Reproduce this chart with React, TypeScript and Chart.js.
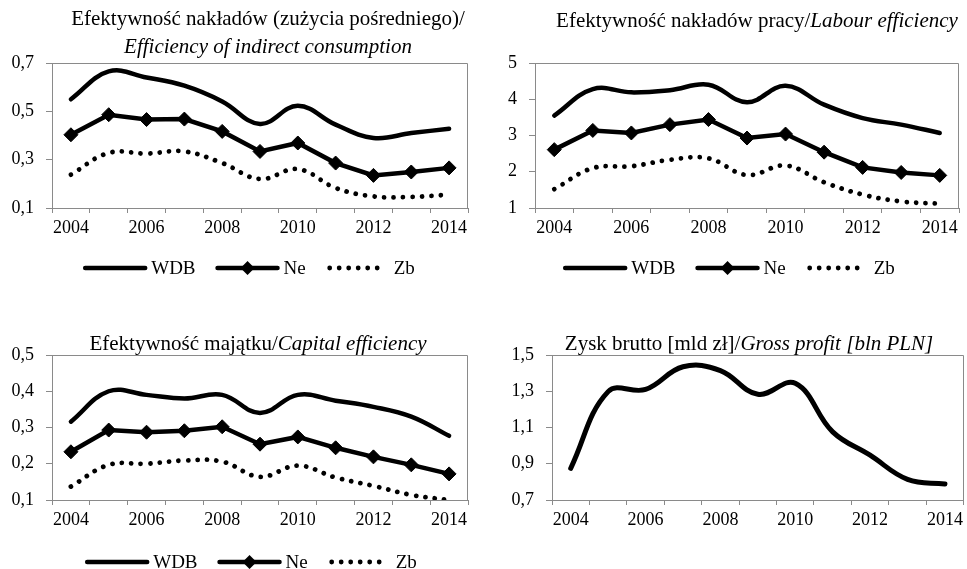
import React, { useEffect, useRef } from 'react';
import { Chart, registerables } from 'chart.js';

Chart.register(...registerables);

const FONT = '"Liberation Serif", "Times New Roman", Times, serif';
const AXIS_GRAY = '#8a8a8a';

const years = ['2004', '2005', '2006', '2007', '2008', '2009', '2010', '2011', '2012', '2013', '2014'];
const seriesNames = ['WDB', 'Ne', 'Zb'];

// Efficiency of indirect consumption
const indirectWDB = [0.55, 0.665, 0.64, 0.606, 0.541, 0.448, 0.523, 0.445, 0.39, 0.41, 0.428];
const indirectNe = [0.403, 0.486, 0.466, 0.468, 0.417, 0.334, 0.369, 0.286, 0.235, 0.249, 0.266];
const indirectZb = [0.238, 0.328, 0.325, 0.334, 0.286, 0.22, 0.261, 0.183, 0.148, 0.146, 0.155];
const indirectTicks = [0.1, 0.7, 0.2];

// Labour efficiency
const labourWDB = [3.55, 4.28, 4.19, 4.25, 4.4, 3.92, 4.37, 3.85, 3.48, 3.3, 3.07];
const labourNe = [2.61, 3.14, 3.07, 3.3, 3.44, 2.93, 3.04, 2.54, 2.12, 1.98, 1.9];
const labourZb = [1.52, 2.1, 2.15, 2.33, 2.37, 1.91, 2.17, 1.71, 1.37, 1.18, 1.12];
const labourTicks = [1, 5, 1];

// Capital efficiency
const capitalWDB = [0.316, 0.4, 0.39, 0.38, 0.39, 0.34, 0.39, 0.374, 0.357, 0.33, 0.277];
const capitalNe = [0.233, 0.293, 0.287, 0.291, 0.302, 0.254, 0.274, 0.244, 0.219, 0.197, 0.172];
const capitalZb = [0.137, 0.197, 0.2, 0.209, 0.206, 0.164, 0.195, 0.162, 0.139, 0.114, 0.1];
const capitalTicks = [0.1, 0.5, 0.1];

// Gross profit [bln PLN]
const profit = [0.875, 1.298, 1.31, 1.435, 1.414, 1.283, 1.344, 1.076, 0.947, 0.814, 0.788];
const profitTicks = [0.7, 1.5, 0.2];

const title1 = [
  [{ text: 'Efektywność nakładów (zużycia pośredniego)/', italic: false }],
  [{ text: 'Efficiency of indirect consumption', italic: true }],
];
const title2 = [[{ text: 'Efektywność nakładów pracy/', italic: false }, { text: 'Labour efficiency', italic: true }]];
const title3 = [[{ text: 'Efektywność majątku/', italic: false }, { text: 'Capital efficiency', italic: true }]];
const title4 = [[{ text: 'Zysk brutto [mld zł]/', italic: false }, { text: 'Gross profit [bln PLN]', italic: true }]];

const boxPlugin = {
  id: 'plotBox',
  beforeDatasetsDraw(chart: any) {
    const { ctx, chartArea } = chart;
    const l = Math.round(chartArea.left) + 0.5;
    const r = Math.round(chartArea.right) - 0.5;
    const t = Math.round(chartArea.top) + 0.5;
    const b = Math.round(chartArea.bottom) + 0.5;
    ctx.save();
    ctx.strokeStyle = AXIS_GRAY;
    ctx.lineWidth = 1;
    ctx.beginPath();
    ctx.moveTo(l, t);
    ctx.lineTo(r, t);
    ctx.lineTo(r, b);
    ctx.stroke();
    ctx.restore();
  },
};

const titlePlugin = {
  id: 'mixedTitle',
  afterDraw(chart: any, _args: any, opts: any) {
    if (!opts || !opts.lines) return;
    const ctx = chart.ctx;
    ctx.save();
    ctx.fillStyle = '#000';
    ctx.textBaseline = 'alphabetic';
    ctx.textAlign = 'left';
    const f = (it: boolean) => `${it ? 'italic ' : ''}${opts.size}px ${FONT}`;
    opts.lines.forEach((segs: any[], li: number) => {
      const widths = segs.map((s) => {
        ctx.font = f(s.italic);
        return ctx.measureText(s.text).width;
      });
      const total = widths.reduce((a: number, w: number) => a + w, 0);
      let x = opts.centerX - total / 2;
      segs.forEach((s, i) => {
        ctx.font = f(s.italic);
        ctx.fillText(s.text, x, opts.baselines[li]);
        x += widths[i];
      });
    });
    ctx.restore();
  },
};

const legendPlugin = {
  id: 'lineLegend',
  afterDraw(chart: any, _args: any, opts: any) {
    if (!opts || !opts.show) return;
    const ctx = chart.ctx;
    ctx.save();
    ctx.font = `19px ${FONT}`;
    const sw = 60;
    const gapText = 6;
    const gapItem = 22;
    const items = chart.data.datasets.map((ds: any) => ({ ds, w: ctx.measureText(ds.label).width }));
    const total =
      items.reduce((a: number, it: any) => a + sw + gapText + it.w, 0) + gapItem * (items.length - 1);
    let x = opts.centerX - total / 2;
    const y = opts.y;
    items.forEach(({ ds, w }: any) => {
      const dashed = ds.borderDash && ds.borderDash.length;
      ctx.beginPath();
      ctx.strokeStyle = ds.borderColor;
      ctx.lineWidth = ds.borderWidth;
      ctx.lineCap = ds.borderCapStyle || 'butt';
      ctx.setLineDash(ds.borderDash || []);
      ctx.moveTo(x + (dashed ? 2 : 0), y);
      ctx.lineTo(x + sw - (dashed ? 2 : 0), y);
      ctx.stroke();
      ctx.setLineDash([]);
      if (ds.pointStyle === 'rectRot' && ds.pointRadius > 0) {
        const r = ds.pointRadius;
        const cx = x + sw / 2;
        ctx.beginPath();
        ctx.moveTo(cx, y - r);
        ctx.lineTo(cx + r, y);
        ctx.lineTo(cx, y + r);
        ctx.lineTo(cx - r, y);
        ctx.closePath();
        ctx.fillStyle = '#000';
        ctx.fill();
      }
      ctx.fillStyle = '#000';
      ctx.textBaseline = 'middle';
      ctx.textAlign = 'left';
      ctx.fillText(ds.label, x + sw + gapText, y + 1);
      x += sw + gapText + w + gapItem;
    });
    ctx.restore();
  },
};

function threeSeries(wdb: number[], ne: number[], zb: number[]) {
  return [
    {
      label: seriesNames[0],
      data: wdb,
      borderColor: '#000',
      borderWidth: 4.5,
      borderCapStyle: 'round',
      tension: 0.4,
      pointRadius: 0,
      fill: false,
    },
    {
      label: seriesNames[1],
      data: ne,
      borderColor: '#000',
      borderWidth: 4.5,
      borderCapStyle: 'round',
      tension: 0,
      pointStyle: 'rectRot',
      pointRadius: 7,
      pointBackgroundColor: '#000',
      pointBorderColor: '#000',
      pointBorderWidth: 1,
      fill: false,
    },
    {
      label: seriesNames[2],
      data: zb,
      borderColor: '#000',
      borderWidth: 4.8,
      borderCapStyle: 'round',
      borderDash: [0.001, 9.5],
      tension: 0.4,
      pointRadius: 0,
      fill: false,
    },
  ];
}

function makeConfig(p: any) {
  const [min, max, step] = p.ticks;
  return {
    type: 'line',
    data: { labels: years, datasets: p.datasets },
    plugins: [boxPlugin, titlePlugin, legendPlugin],
    options: {
      responsive: false,
      animation: false,
      devicePixelRatio: 1,
      events: [],
      layout: { padding: p.padding },
      font: { family: FONT, size: 18 },
      scales: {
        x: {
          type: 'category',
          offset: true,
          afterFit: (s: any) => {
            s.height = p.xHeight;
          },
          grid: {
            offset: true,
            drawOnChartArea: false,
            drawTicks: true,
            tickLength: 5,
            color: AXIS_GRAY,
          },
          border: { color: AXIS_GRAY, width: 1 },
          ticks: {
            autoSkip: false,
            maxRotation: 0,
            minRotation: 0,
            padding: 4,
            color: '#000',
            font: { family: FONT, size: 18 },
            callback: (_v: any, i: number) => (i % 2 === 0 ? years[i] : ''),
          },
        },
        y: {
          min,
          max,
          afterFit: (s: any) => {
            s.width = p.yWidth;
          },
          grid: {
            drawOnChartArea: false,
            drawTicks: true,
            tickLength: 6,
            color: AXIS_GRAY,
          },
          border: { color: AXIS_GRAY, width: 1 },
          ticks: {
            stepSize: step,
            padding: 12,
            color: '#000',
            font: { family: FONT, size: 18 },
            callback: (v: any) => (p.decimals ? Number(v).toFixed(p.decimals).replace('.', ',') : String(Math.round(v))),
          },
        },
      },
      plugins: {
        legend: { display: false },
        tooltip: { enabled: false },
        title: { display: false },
        mixedTitle: { lines: p.title, centerX: p.titleX, baselines: p.titleBaselines, size: 21 },
        lineLegend: p.legend || { show: false },
      },
    },
  };
}

const panels = [
  {
    left: 0,
    top: 0,
    width: 483,
    height: 290,
    config: makeConfig({
      datasets: threeSeries(indirectWDB, indirectNe, indirectZb),
      ticks: indirectTicks,
      decimals: 1,
      padding: { left: 0, top: 63, right: 15, bottom: 47 },
      xHeight: 35,
      yWidth: 52,
      title: title1,
      titleX: 268,
      titleBaselines: [25, 53],
      legend: { show: true, centerX: 250, y: 268 },
    }),
  },
  {
    left: 483,
    top: 0,
    width: 484,
    height: 290,
    config: makeConfig({
      datasets: threeSeries(labourWDB, labourNe, labourZb),
      ticks: labourTicks,
      decimals: 0,
      padding: { left: 0, top: 63, right: 2, bottom: 47 },
      xHeight: 35,
      yWidth: 52,
      title: title2,
      titleX: 274,
      titleBaselines: [27],
      legend: { show: true, centerX: 247, y: 268 },
    }),
  },
  {
    left: 0,
    top: 290,
    width: 483,
    height: 279,
    config: makeConfig({
      datasets: threeSeries(capitalWDB, capitalNe, capitalZb),
      ticks: capitalTicks,
      decimals: 1,
      padding: { left: 0, top: 65, right: 15, bottom: 34 },
      xHeight: 35,
      yWidth: 52,
      title: title3,
      titleX: 258,
      titleBaselines: [60],
      legend: { show: true, centerX: 252, y: 272 },
    }),
  },
  {
    left: 483,
    top: 290,
    width: 484,
    height: 279,
    config: makeConfig({
      datasets: [
        {
          label: 'Zysk brutto',
          data: profit,
          borderColor: '#000',
          borderWidth: 5,
          borderCapStyle: 'round',
          tension: 0.4,
          pointRadius: 0,
          fill: false,
        },
      ],
      ticks: profitTicks,
      decimals: 1,
      padding: { left: 0, top: 65, right: 1, bottom: 34 },
      xHeight: 35,
      yWidth: 69,
      title: title4,
      titleX: 266,
      titleBaselines: [60],
    }),
  },
];

function Panel({ left, top, width, height, config }: any) {
  const ref = useRef<HTMLCanvasElement | null>(null);
  useEffect(() => {
    if (!ref.current) return;
    const chart = new Chart(ref.current, config);
    return () => chart.destroy();
  }, [config]);
  return (
    <canvas
      ref={ref}
      width={width}
      height={height}
      style={{ position: 'absolute', left, top, width, height, display: 'block' }}
    />
  );
}

export default function App() {
  return (
    <div style={{ position: 'absolute', left: 0, top: 0, width: 967, height: 569, background: '#fff', overflow: 'hidden' }}>
      {panels.map((p, i) => (
        <Panel key={i} {...p} />
      ))}
    </div>
  );
}
